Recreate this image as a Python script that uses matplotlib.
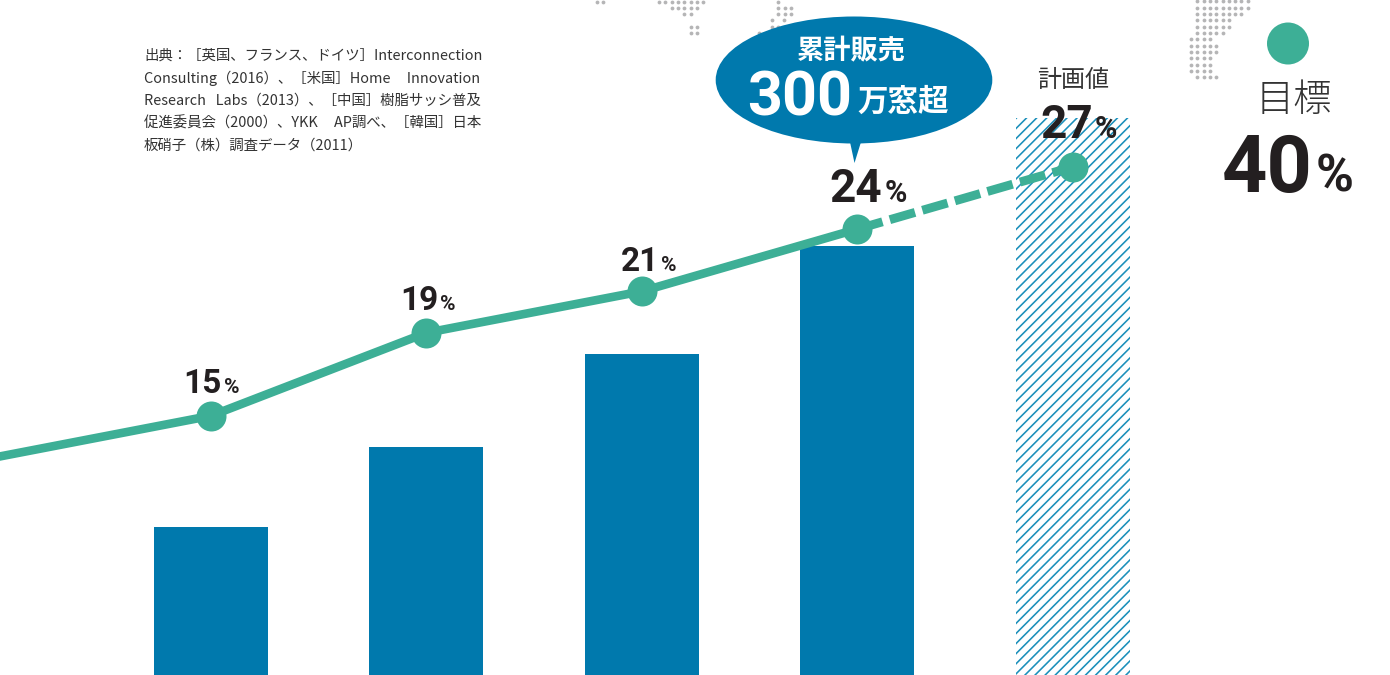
#Cumulative sales bars with market share line and target callout

import matplotlib
matplotlib.use('Agg')
import matplotlib.pyplot as plt
import numpy as np
from matplotlib.patches import Ellipse, Polygon, Circle
from matplotlib.collections import LineCollection

plt.rcParams['font.family'] = ['Noto Sans CJK JP', 'DejaVu Sans']

BLUE = '#0079ad'
GREEN = '#3daf96'
INK = '#231f20'
GREY = '#b5b5b6'
NUMFONT = ['Roboto', 'Noto Sans CJK JP']

#bars have no printed scale, heights are relative
positions = [0, 1, 2, 3, 4]
sales = [148, 228, 321, 429, 557]

#share in percent, the first point runs in from off the left edge
share_pos = [-1, 0, 1, 2, 3]
share = [13.0, 15, 19, 21, 24]
plan_pos = [3, 4]
plan_share = [24, 27]
target_share = 40

source_lines = [
    '出典：［英国、フランス、ドイツ］Interconnection',
    'Consulting（2016）、［米国］Home     Innovation',
    'Research   Labs（2013）、［中国］樹脂サッシ普及',
    '促進委員会（2000）、YKK     AP調べ、［韓国］日本',
    '板硝子（株）調査データ（2011）',
]

fig = plt.figure(figsize=(13.9, 6.75), dpi=100)

#pixel coordinate layer for the decoration and free text
over = fig.add_axes([0, 0, 1, 1], zorder=1)
over.set_xlim(0, 1390)
over.set_ylim(675, 0)
over.axis('off')

ax = fig.add_axes([0, 0, 1, 1], zorder=2)
ax.patch.set_alpha(0)
ax.set_xlim(-210.8/215.5, (1390-210.8)/215.5)
ax.set_ylim(0, 675)
ax.axis('off')

ax_line = fig.add_axes([0, 0, 1, 1], zorder=3, sharex=ax)
ax_line.patch.set_alpha(0)
ax_line.set_ylim(2.51, 35.04)
ax_line.axis('off')

#map dots, each row is y, first x, number of dots
step = 6.3
for x0, rows in [
    (1197.3, [(1.3, 9), (7.7, 9), (14, 8), (20.3, 6), (26.7, 6), (33, 5), (77, 4)]),
    (1191, [(39, 4), (45.5, 5), (52, 5), (58, 4), (64.5, 4), (70.7, 4)]),
    (596.7, [(1.5, 2)]),
    (659, [(1.5, 8)]),
    (671.7, [(7.7, 5)]),
    (684.3, [(14, 2)]),
    (690.7, [(26.5, 2), (33, 2)]),
    (778.3, [(1.5, 1), (7.7, 3), (14, 3)]),
    (771.7, [(26.5, 2)]),
]:
    for y, n in rows:
        over.scatter(x0 + step*np.arange(n), [y]*n, s=7.5, color=GREY, lw=0, zorder=1)
over.scatter([771.7, 784.3, 759.3], [20.3, 20.3, 33], s=7.5, color=GREY, lw=0, zorder=1)

#bars, the last one is the plan value and gets hatched by hand
ax.bar(positions[:4], sales[:4], width=114/215.5, color=BLUE, lw=0)
plan_bar = ax.bar(positions[4], sales[4], width=114/215.5, color='none', lw=0)[0]
segs = [[(c, 690), (c+700, -10)] for c in np.arange(323.2, 1140, 10.1)]
hatch = LineCollection(segs, colors='#1b8fba', linewidths=1.15, zorder=2)
over.add_collection(hatch)
hatch.set_clip_path(plan_bar)

#share line, dashes for the planned part
ax_line.plot(share_pos, share, color=GREEN, lw=6.2, solid_capstyle='butt')
ax_line.plot(plan_pos, plan_share, color=GREEN, lw=6.4, linestyle=(0, (2.95, 0.86)))
ax_line.plot(positions, share[1:] + plan_share[1:], 'o', color=GREEN, ms=21.6, mew=0)

#value labels next to each marker
values = share[1:] + plan_share[1:]
sizes = [(24, 15), (24, 15), (24, 15), (33, 22), (33, 22)]
offs = [(11, 23), (12, 23), (17, 20), (25, 27), (20, 29)]
for p, v, (big, small), (dx, dy) in zip(positions, values, sizes, offs):
    ax_line.annotate(f'{v}', (p, v), xytext=(dx, dy), textcoords='offset pixels',
                     ha='right', va='baseline', fontsize=big, fontweight='bold',
                     color=INK, family=NUMFONT)
    ax_line.annotate('%', (p, v), xytext=(dx+2, dy), textcoords='offset pixels',
                     ha='left', va='baseline', fontsize=small, fontweight='bold',
                     color=INK, family=NUMFONT)

#callout balloon
over.add_patch(Ellipse((854, 80), 276.6, 127, color=BLUE, lw=0, zorder=3))
over.add_patch(Polygon([(850, 142), (861, 142), (854.5, 163)], color=BLUE, lw=0, zorder=3))
over.text(851.5, 51, '累計販売', ha='center', va='center', fontsize=19.6, fontweight='bold',
          color='white', zorder=4)
over.text(852, 115, '300', ha='right', va='baseline', fontsize=44, fontweight='bold',
          color='white', family=NUMFONT, zorder=4)
over.text(903.5, 102, '万窓超', ha='center', va='center', fontsize=22, fontweight='bold',
          color='white', zorder=4)

over.text(1073, 80, '計画値', ha='center', va='center', fontsize=17.3, color='#333333', zorder=4)

#target on the right
over.add_patch(Circle((1288, 43.5), 21, color=GREEN, lw=0, zorder=3))
over.text(1294, 100, '目標', ha='center', va='center', fontsize=27.5, fontweight='light',
          color='#333333', zorder=4)
over.text(1313, 192, f'{target_share}', ha='right', va='baseline', fontsize=57, fontweight='bold',
          color=INK, family=NUMFONT, zorder=4)
over.text(1316, 192, '%', ha='left', va='baseline', fontsize=37, fontweight='bold',
          color=INK, family=NUMFONT, zorder=4)

for y, line in zip([56, 78.5, 101, 123.5, 146], source_lines):
    over.text(144, y, line, ha='left', va='center', fontsize=10.4, color='#333333', zorder=4)

fig.savefig('out.png', dpi=100)
